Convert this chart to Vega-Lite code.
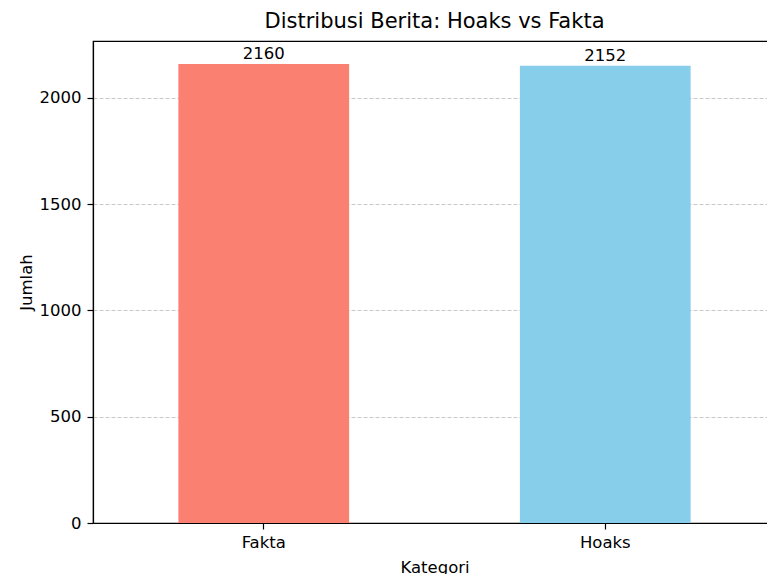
{
  "$schema": "https://vega.github.io/schema/vega-lite/v6.json",
  "autosize": {"type": "none"},
  "padding": {"left": 93, "top": 41, "right": 0, "bottom": 51},
  "width": 683,
  "height": 482,
  "background": "white",
  "config": {
    "font": "DejaVu Sans",
    "view": {"stroke": "black", "strokeWidth": 1.2},
    "axis": {
      "labelFont": "DejaVu Sans",
      "titleFont": "DejaVu Sans",
      "labelFontSize": 16.5,
      "titleFontSize": 16.5,
      "labelColor": "black",
      "titleColor": "black",
      "titleFontWeight": "normal",
      "tickColor": "black",
      "tickSize": 6,
      "tickWidth": 1.2,
      "domainColor": "black",
      "domainWidth": 1.2,
      "labelPadding": 6
    }
  },
  "title": {
    "text": "Distribusi Berita: Hoaks vs Fakta",
    "font": "DejaVu Sans",
    "fontSize": 21,
    "fontWeight": "normal",
    "color": "black",
    "offset": 9
  },
  "data": {
    "values": [
      {"Kategori": "Fakta", "Jumlah": 2160},
      {"Kategori": "Hoaks", "Jumlah": 2152}
    ]
  },
  "encoding": {
    "x": {
      "field": "Kategori",
      "type": "nominal",
      "sort": ["Fakta", "Hoaks"],
      "scale": {"paddingInner": 0.5, "paddingOuter": 0.25},
      "axis": {"labelAngle": 0, "title": "Kategori", "titlePadding": 9, "grid": false, "labelPadding": 5}
    },
    "y": {
      "field": "Jumlah",
      "type": "quantitative",
      "scale": {"domain": [0, 2268], "nice": false, "zero": true},
      "axis": {
        "values": [0, 500, 1000, 1500, 2000],
        "format": "d",
        "title": "Jumlah",
        "titlePadding": 5,
        "grid": true,
        "gridColor": "#c8c8c8",
        "gridDash": [4, 2],
        "gridWidth": 1
      }
    }
  },
  "layer": [
    {
      "mark": {"type": "bar"},
      "encoding": {
        "color": {
          "field": "Kategori",
          "type": "nominal",
          "scale": {"domain": ["Fakta", "Hoaks"], "range": ["#FA8072", "#87CEEB"]},
          "legend": null
        }
      }
    },
    {
      "mark": {"type": "text", "baseline": "bottom", "dy": -2, "fontSize": 16.5, "color": "black", "font": "DejaVu Sans"},
      "encoding": {
        "text": {"field": "Jumlah", "type": "quantitative", "format": "d"}
      }
    }
  ]
}
